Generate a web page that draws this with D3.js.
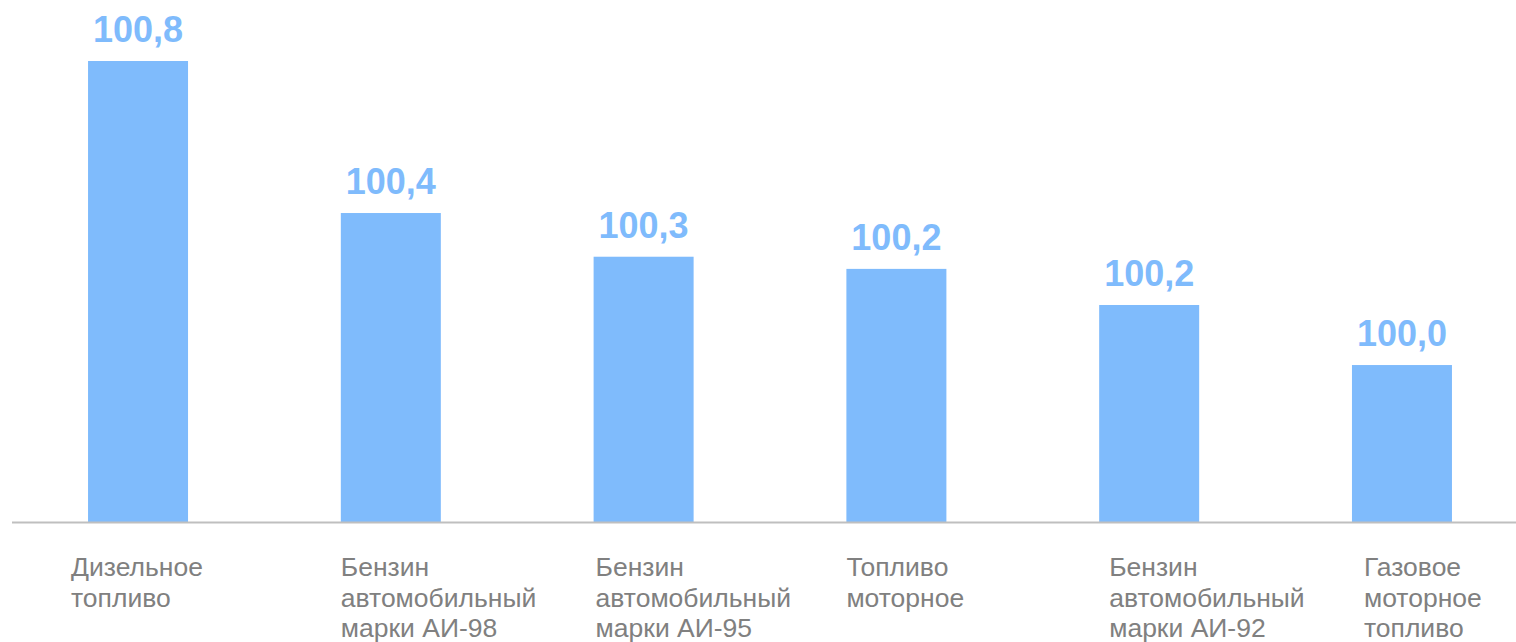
<!DOCTYPE html>
<html>
<head>
<meta charset="utf-8">
<script src="https://cdn.jsdelivr.net/npm/d3@7"></script>
<style>
  html, body { margin: 0; padding: 0; background: #fff; }
  svg { display: block; }
</style>
</head>
<body>
<div class="chart"></div>
<script>
// data
var categories = [
    ["Дизельное", "топливо"],
    ["Бензин", "автомобильный", "марки АИ-98"],
    ["Бензин", "автомобильный", "марки АИ-95"],
    ["Топливо", "моторное"],
    ["Бензин", "автомобильный", "марки АИ-92"],
    ["Газовое", "моторное", "топливо"]
];
var values = [100.8, 100.4, 100.285, 100.253, 100.158, 100.0];
var valueLabels = ["100,8", "100,4", "100,3", "100,2", "100,2", "100,0"];

// layout only: horizontal shift of each category label vs. bar left edge
var labelShift = [-17, 0, 2, 0, 10, 12];

var w = 1516, h = 642;
var blue = "#7fbbfc";

var svg = d3.select(".chart")
    .append("svg")
    .attr("width", w)
    .attr("height", h);

var x = d3.scaleBand()
    .domain(d3.range(values.length))
    .range([12.2, 1527.8])
    .paddingInner(0.6044)
    .paddingOuter(0.3);

var y = d3.scaleLinear()
    .domain([99.587, 100.8])
    .range([522, 61]);

svg.selectAll("rect.bar")
    .data(values)
    .enter()
    .append("rect")
    .attr("class", "bar")
    .attr("x", function(d, i) { return x(i); })
    .attr("y", function(d) { return y(d); })
    .attr("width", x.bandwidth())
    .attr("height", function(d) { return y.range()[0] - y(d); })
    .attr("fill", blue);

// baseline
svg.append("line")
    .attr("x1", 12).attr("x2", w)
    .attr("y1", 522.5).attr("y2", 522.5)
    .attr("stroke", "#bfbfbf")
    .attr("stroke-width", 2);

svg.selectAll("text.val")
    .data(values)
    .enter()
    .append("text")
    .attr("class", "val")
    .attr("x", function(d, i) { return x(i) + x.bandwidth() / 2; })
    .attr("y", function(d) { return y(d) - 19; })
    .attr("text-anchor", "middle")
    .attr("font-family", "Liberation Sans, Arial, sans-serif")
    .attr("font-weight", "bold")
    .attr("font-size", 36)
    .attr("fill", blue)
    .text(function(d, i) { return valueLabels[i]; });

var cat = svg.selectAll("text.cat")
    .data(categories)
    .enter()
    .append("text")
    .attr("class", "cat")
    .attr("font-family", "Liberation Sans, Arial, sans-serif")
    .attr("font-size", 26.5)
    .attr("fill", "#808080");

cat.selectAll("tspan")
    .data(function(d, i) { return d.map(function(s) { return {s: s, i: i}; }); })
    .enter()
    .append("tspan")
    .attr("x", function(d) { return x(d.i) + labelShift[d.i]; })
    .attr("y", function(d, j) { return 576 + j * 30.7; })
    .text(function(d) { return d.s; });
</script>
</body>
</html>
